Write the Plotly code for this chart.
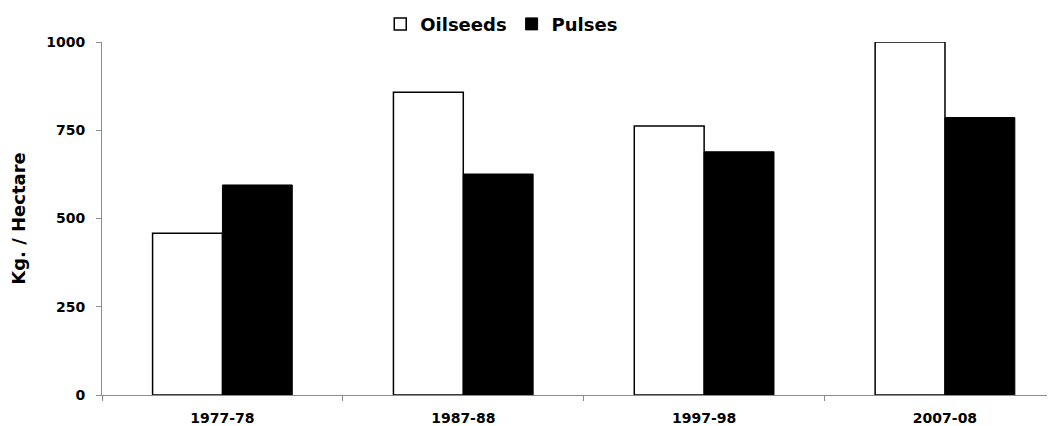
import plotly.graph_objects as go

categories = ["1977-78", "1987-88", "1997-98", "2007-08"]
oilseeds = [458, 858, 762, 1000]
pulses = [595, 626, 689, 786]
y_ticks = [0, 250, 500, 750, 1000]

font_family = "DejaVu Sans, Liberation Sans, Arial, sans-serif"

fig = go.Figure()
fig.add_trace(go.Bar(
    x=categories, y=oilseeds, name="Oilseeds",
    marker=dict(color="white", line=dict(color="black", width=1.5)),
))
fig.add_trace(go.Bar(
    x=categories, y=pulses, name="Pulses",
    marker=dict(color="black", line=dict(color="black", width=1)),
))

fig.update_layout(
    width=1055, height=426,
    margin=dict(l=94, r=0, t=34, b=39, autoexpand=False),
    paper_bgcolor="white", plot_bgcolor="white",
    barmode="group", bargap=0.42, bargroupgap=0,
    font=dict(family=font_family, color="black"),
    showlegend=True,
    legend=dict(
        orientation="h", xref="container", x=0.468, xanchor="center",
        yref="container", y=0.962, yanchor="middle",
        font=dict(family=font_family, size=18, color="black", weight="bold"),
        tracegroupgap=0, bgcolor="rgba(0,0,0,0)",
    ),
    xaxis=dict(
        type="category", range=[-0.5, 3.49], automargin=False,
        showline=True, linecolor="#8c8c8c", linewidth=1,
        ticks="outside", tickson="boundaries", ticklen=5, tickcolor="#8c8c8c",
        ticklabelstandoff=10,
        tickfont=dict(family=font_family, size=14, color="black", weight="bold"),
        showgrid=False, zeroline=False,
    ),
    yaxis=dict(
        range=[0, 1000], tickvals=y_ticks, automargin=False,
        showline=True, linecolor="#8c8c8c", linewidth=1,
        ticks="outside", ticklen=5, tickcolor="#8c8c8c",
        ticklabelstandoff=8,
        tickfont=dict(family=font_family, size=14, color="black", weight="bold"),
        showgrid=False, zeroline=False,
        title=dict(text="Kg. / Hectare", standoff=22,
                   font=dict(family=font_family, size=18, color="black", weight="bold")),
    ),
)

fig.write_html("out.html")
